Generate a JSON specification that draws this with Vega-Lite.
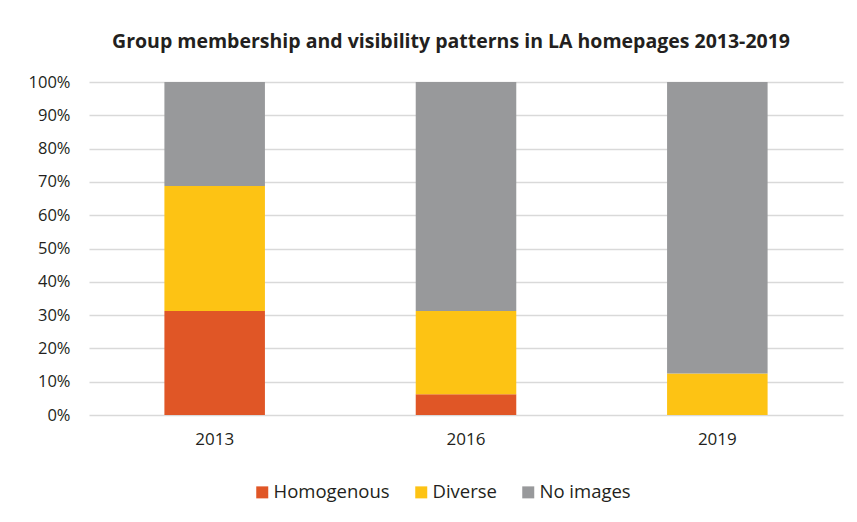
{
  "$schema": "https://vega.github.io/schema/vega-lite/v6.json",
  "width": 754,
  "height": 333,
  "autosize": "none",
  "padding": {"left": 89, "top": 82, "right": 14, "bottom": 107},
  "background": "white",
  "title": {
    "text": "Group membership and visibility patterns in LA homepages 2013-2019",
    "font": "Open Sans",
    "fontSize": 19.5,
    "fontWeight": "bold",
    "color": "#231F20",
    "anchor": "middle",
    "dx": -15,
    "offset": 22
  },
  "data": {
    "values": [
      {"year": "2013", "type": "Homogenous", "n": 5, "o": 1},
      {"year": "2013", "type": "Diverse", "n": 6, "o": 2},
      {"year": "2013", "type": "No images", "n": 5, "o": 3},
      {"year": "2016", "type": "Homogenous", "n": 1, "o": 1},
      {"year": "2016", "type": "Diverse", "n": 4, "o": 2},
      {"year": "2016", "type": "No images", "n": 11, "o": 3},
      {"year": "2019", "type": "Homogenous", "n": 0, "o": 1},
      {"year": "2019", "type": "Diverse", "n": 2, "o": 2},
      {"year": "2019", "type": "No images", "n": 14, "o": 3}
    ]
  },
  "mark": {"type": "bar"},
  "encoding": {
    "x": {
      "field": "year",
      "type": "nominal",
      "scale": {"paddingInner": 0.6, "paddingOuter": 0.3},
      "axis": {
        "title": null,
        "labelAngle": 0,
        "ticks": false,
        "domain": false,
        "labelFont": "Open Sans",
        "labelFontSize": 17,
        "labelColor": "#231F20",
        "labelPadding": 16
      }
    },
    "y": {
      "field": "n",
      "type": "quantitative",
      "stack": "normalize",
      "scale": {"domain": [0, 1], "nice": false},
      "axis": {
        "title": null,
        "format": ".0%",
        "values": [0, 0.1, 0.2, 0.3, 0.4, 0.5, 0.6, 0.7, 0.8, 0.9, 1],
        "labelOverlap": false,
        "ticks": false,
        "domain": false,
        "grid": true,
        "gridColor": "#D9D9D9",
        "gridWidth": 1.5,
        "labelFont": "Open Sans",
        "labelFontSize": 16.5,
        "labelColor": "#231F20",
        "labelPadding": 19
      }
    },
    "color": {
      "field": "type",
      "type": "nominal",
      "scale": {
        "domain": ["Homogenous", "Diverse", "No images"],
        "range": ["#E05626", "#FDC314", "#98999B"]
      },
      "legend": {
        "title": null,
        "orient": "none",
        "direction": "horizontal",
        "legendX": 164,
        "legendY": 401,
        "symbolType": "square",
        "symbolSize": 144,
        "symbolStrokeWidth": 0,
        "labelFont": "Open Sans",
        "labelFontSize": 18.5,
        "labelColor": "#231F20",
        "labelOffset": 2,
        "columnPadding": 22
      }
    },
    "order": {"field": "o", "type": "quantitative"}
  },
  "config": {
    "view": {"stroke": null}
  }
}
